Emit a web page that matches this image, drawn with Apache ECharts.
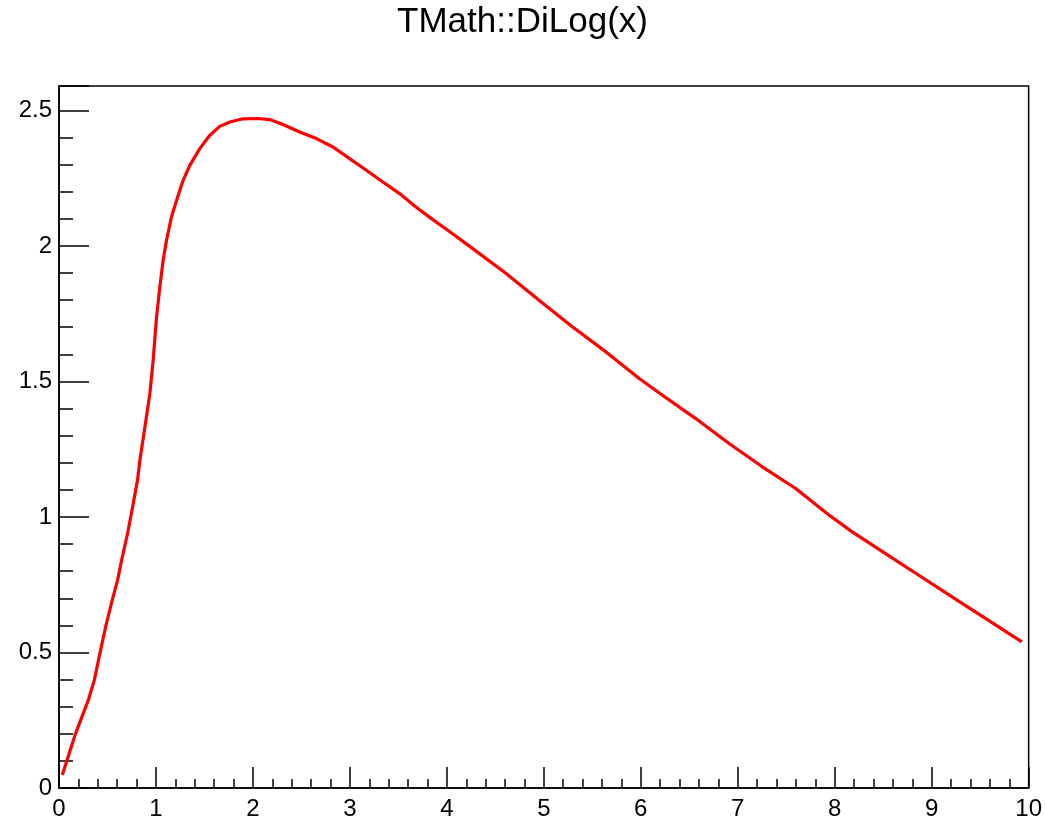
<!DOCTYPE html>
<html>
<head>
<meta charset="utf-8">
<script src="https://cdn.jsdelivr.net/npm/echarts@6/dist/echarts.min.js"></script>
<style>html,body{margin:0;padding:0;background:#fff}#c{width:1045px;height:822px}</style>
</head>
<body>
<div id="c"></div>
<script>
const titleText = 'TMath::DiLog(x)';
const xValues = [0.034,0.165,0.302,0.364,0.422,0.481,0.549,0.604,0.646,0.707,0.759,0.810,0.834,0.886,0.937,0.971,1.006,1.040,1.074,1.109,1.160,1.212,1.280,1.349,1.452,1.555,1.658,1.761,1.898,2.050,2.173,2.310,2.482,2.654,2.825,2.997,3.169,3.340,3.512,3.684,3.855,4.020,4.267,4.611,4.954,5.297,5.641,5.984,6.223,6.567,6.910,7.253,7.597,7.940,8.180,8.524,8.867,9.210,9.554,9.930];
const yValues = [0.048,0.195,0.324,0.398,0.497,0.595,0.693,0.767,0.841,0.939,1.037,1.136,1.209,1.332,1.455,1.578,1.738,1.849,1.947,2.021,2.107,2.168,2.242,2.297,2.359,2.408,2.441,2.457,2.469,2.470,2.466,2.448,2.420,2.396,2.365,2.322,2.279,2.236,2.193,2.143,2.097,2.055,1.990,1.898,1.799,1.701,1.609,1.511,1.449,1.363,1.271,1.185,1.105,1.007,0.945,0.865,0.785,0.705,0.626,0.539];
const xRange = [0, 10];
const yRange = [0, 2.59];

const chart = echarts.init(document.getElementById('c'), null, {renderer: 'canvas'});
const font = 'Liberation Sans, Arial, Helvetica, sans-serif';
chart.setOption({
  animation: false,
  backgroundColor: '#fff',
  title: {
    text: titleText, left: 'center', top: 0,
    textStyle: {fontFamily: font, fontSize: 35, fontWeight: 'normal', color: '#000'}
  },
  grid: {left: 59, right: 15, top: 86, bottom: 34, show: true, borderColor: '#000', borderWidth: 1.5, containLabel: false},
  xAxis: {
    type: 'value', min: xRange[0], max: xRange[1], interval: 1,
    axisLine: {show: true, lineStyle: {color: '#000', width: 1.5}},
    axisTick: {show: true, inside: true, length: 21, lineStyle: {color: '#000', width: 1.5}},
    minorTick: {show: true, splitNumber: 5, length: 9, lineStyle: {color: '#000', width: 1.5}},
    splitLine: {show: false},
    axisLabel: {fontFamily: font, fontSize: 24, color: '#000', margin: 9}
  },
  yAxis: {
    type: 'value', min: yRange[0], max: yRange[1], interval: 0.5,
    axisLine: {show: true, lineStyle: {color: '#000', width: 1.5}},
    axisTick: {show: true, inside: true, length: 30, lineStyle: {color: '#000', width: 1.5}},
    minorTick: {show: true, splitNumber: 5, length: 14, lineStyle: {color: '#000', width: 1.5}},
    splitLine: {show: false},
    axisLabel: {fontFamily: font, fontSize: 24, color: '#000', margin: 7, showMaxLabel: false}
  },
  series: [{
    type: 'line', showSymbol: false, symbol: 'none',
    data: xValues.map((x, i) => [x, yValues[i]]),
    smooth: false,
    lineStyle: {color: '#ff0000', width: 3.2},
    clip: true
  }]
});
</script>
</body>
</html>
